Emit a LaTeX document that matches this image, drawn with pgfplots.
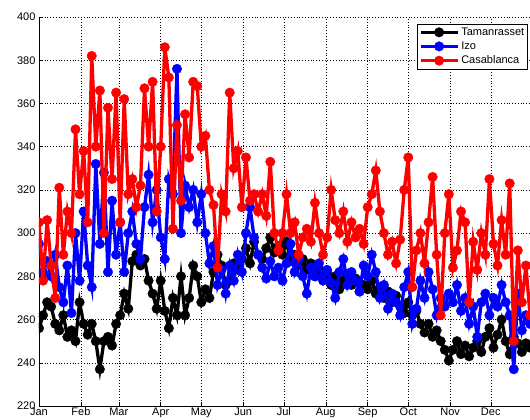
\documentclass[border=0pt]{standalone}
\usepackage{pgfplots}
\pgfplotsset{compat=1.18}
\usepackage{pgfplotstable}
\usepackage{fontspec}
\setmainfont{Liberation Sans}

% daily values (every third day)
\pgfplotstableread{
d v
0 256
3 262
6 268
9 266
12 258
15 255
18 262
21 252
24 255
27 250
30 268
33 258
36 253
39 258
42 250
45 237
48 250
51 252
54 248
57 258
60 262
63 272
66 265
69 287
72 290
75 285
78 288
81 278
84 272
87 265
90 278
93 264
96 256
99 270
102 262
105 280
108 262
111 270
114 285
117 280
120 268
123 274
126 270
129 282
132 290
135 285
138 276
141 278
144 286
147 283
150 288
153 293
156 286
159 296
162 290
165 288
168 293
171 298
174 291
177 294
180 290
183 296
186 287
189 290
192 285
195 288
198 283
201 286
204 280
207 283
210 279
213 282
216 276
219 280
222 274
225 278
228 281
231 276
234 279
237 273
240 276
243 274
246 278
249 272
252 275
255 270
258 273
261 268
264 271
267 266
270 263
273 268
276 262
279 264
282 258
285 254
288 258
291 252
294 255
297 250
300 246
303 241
306 246
309 250
312 244
315 248
318 243
321 247
324 250
327 245
330 252
333 256
336 247
339 253
342 260
345 250
348 244
351 252
354 249
357 245
360 249
363 247
}\tam

\pgfplotstableread{
d v
0 295
3 282
6 287
9 280
12 290
15 275
18 268
21 285
24 263
27 300
30 278
33 310
36 285
39 275
42 332
45 295
48 328
51 282
54 315
57 290
60 305
63 282
66 300
69 310
72 295
75 288
78 312
81 327
84 305
87 320
90 298
93 288
96 325
99 318
102 376
105 300
108 322
111 312
114 320
117 305
120 318
123 300
126 286
129 294
132 276
135 283
138 272
141 285
144 278
147 290
150 282
153 300
156 312
159 298
162 290
165 284
168 279
171 287
174 280
177 284
180 278
183 286
186 295
189 282
192 288
195 280
198 272
201 284
204 280
207 286
210 278
213 283
216 277
219 270
222 282
225 288
228 276
231 282
234 278
237 273
240 285
243 280
246 290
249 282
252 270
255 276
258 265
261 272
264 268
267 262
270 275
273 282
276 258
279 265
282 278
285 270
288 282
291 274
294 262
297 270
300 266
303 272
306 268
309 276
312 264
315 270
318 258
321 266
324 252
327 268
330 272
333 262
336 270
339 266
342 276
345 268
348 262
351 237
354 272
357 255
360 262
363 258
}\izo

\pgfplotstableread{
d v
0 305
3 278
6 306
9 285
12 270
15 321
18 290
21 310
24 300
27 348
30 318
33 338
36 305
39 382
42 340
45 366
48 300
51 358
54 325
57 365
60 305
63 362
66 318
69 325
72 312
75 322
78 367
81 340
84 370
87 310
90 340
93 386
96 372
99 302
102 350
105 315
108 355
111 335
114 370
117 368
120 340
123 345
126 320
129 313
132 284
135 318
138 310
141 365
144 330
147 338
150 312
153 335
156 315
159 318
162 310
165 318
168 308
171 333
174 300
177 292
180 300
183 318
186 300
189 305
192 290
195 298
198 302
201 296
204 314
207 300
210 290
213 298
216 320
219 306
222 300
225 310
228 296
231 305
234 298
237 302
240 295
243 312
246 318
249 329
252 310
255 300
258 290
261 296
264 286
267 297
270 320
273 335
276 275
279 292
282 300
285 286
288 305
291 326
294 290
297 262
300 300
303 318
306 284
309 292
312 310
315 305
318 268
321 296
324 283
327 300
330 290
333 325
336 295
339 285
342 306
345 290
348 323
351 250
354 292
357 268
360 285
363 262
}\casa

\begin{document}
\begin{tikzpicture}
\useasboundingbox (-39pt,-14pt) rectangle (491pt,406pt);
\clip (-39pt,-14pt) rectangle (491pt,406pt);
\begin{axis}[
    scale only axis,
    width=491pt, height=389pt,
    xmin=0, xmax=363,
    ymin=220, ymax=400,
    ytick distance=20,
    xtick={0,31,59,90,120,151,181,212,243,273,304,334},
    xticklabels={Jan,Feb,Mar,Apr,May,Jun,Jul,Aug,Sep,Oct,Nov,Dec},
    axis x line*=bottom, axis y line*=left,
    axis line style={-, black, line width=0.6pt},
    tick align=inside,
    major tick length=4pt,
    tick style={black, line width=0.5pt},
    grid=major,
    grid style={black, line width=0.5pt, dash pattern=on 0.6pt off 2.2pt},
    tick label style={font=\fontsize{11}{13}\selectfont},
    xticklabel style={inner sep=1.5pt},
    /pgf/number format/assume math mode=true,
    clip marker paths=true,
    legend cell align=left,
    legend style={at={(axis description cs:0.996,0.982)}, anchor=north east,
        draw=black, line width=0.6pt, font=\fontsize{11}{13}\selectfont,
        inner sep=1.5pt, row sep=1pt},
    legend image code/.code={\draw[mark repeat=2,mark phase=2]
        plot coordinates {(0cm,0cm) (0.65cm,0cm) (1.3cm,0cm)};},
]
\addplot[black, line width=3.3pt, mark=*, mark size=4.8pt, mark options={line width=0.3pt}] table {\tam};
\addlegendentry{Tamanrasset}
\addplot[blue, line width=3.3pt, mark=*, mark size=4.8pt, mark options={line width=0.3pt}] table {\izo};
\addlegendentry{Izo}
\addplot[red, line width=3.3pt, mark=*, mark size=4.8pt, mark options={line width=0.3pt}] table {\casa};
\addlegendentry{Casablanca}
\end{axis}
\end{tikzpicture}
\end{document}
